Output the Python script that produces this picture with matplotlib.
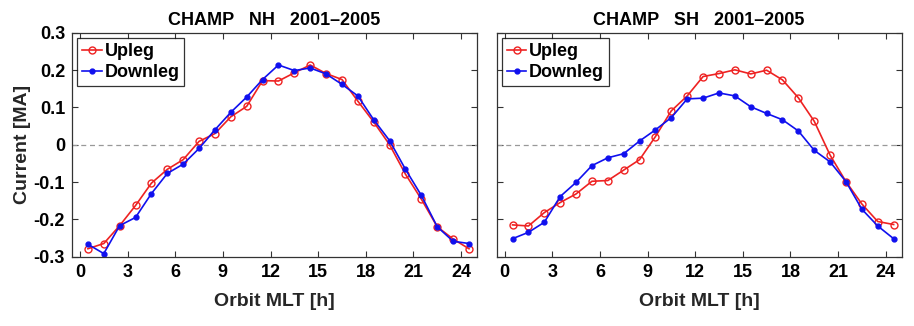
import numpy as np
import matplotlib
matplotlib.use("Agg")
import matplotlib.pyplot as plt

plt.rcParams['font.family'] = ['Liberation Sans', 'DejaVu Sans']
plt.rcParams['font.weight'] = 'bold'
plt.rcParams['axes.unicode_minus'] = False

# orbit MLT bins (hours)
mlt = np.arange(0.5, 25.0, 1.0)

# CHAMP NH, 2001-2005 (MA)
nh_up = [-0.279, -0.265, -0.217, -0.163, -0.103, -0.066, -0.040, 0.009, 0.030,
         0.075, 0.103, 0.172, 0.171, 0.193, 0.214, 0.191, 0.175, 0.117, 0.061,
         0.000, -0.079, -0.146, -0.220, -0.253, -0.279]
nh_down = [-0.267, -0.292, -0.217, -0.195, -0.131, -0.077, -0.052, -0.010, 0.040,
           0.087, 0.128, 0.175, 0.214, 0.199, 0.206, 0.190, 0.162, 0.131, 0.067,
           0.011, -0.066, -0.136, -0.220, -0.259, -0.265]

# CHAMP SH, 2001-2005 (MA)
sh_up = [-0.215, -0.218, -0.182, -0.155, -0.132, -0.098, -0.096, -0.068, -0.040,
         0.022, 0.091, 0.131, 0.183, 0.191, 0.201, 0.190, 0.200, 0.174, 0.126,
         0.063, -0.028, -0.099, -0.159, -0.206, -0.214]
sh_down = [-0.252, -0.235, -0.208, -0.139, -0.101, -0.056, -0.035, -0.024, 0.010,
           0.040, 0.073, 0.123, 0.125, 0.139, 0.131, 0.102, 0.084, 0.067, 0.037,
           -0.015, -0.046, -0.099, -0.173, -0.218, -0.252]

xticks = [0, 3, 6, 9, 12, 15, 18, 21, 24]
yticks = [-0.3, -0.2, -0.1, 0, 0.1, 0.2, 0.3]
ytick_labels = ['-0.3', '-0.2', '-0.1', '0', '0.1', '0.2', '0.3']

fig = plt.figure(figsize=(9.14, 3.26), dpi=100)
ax1 = fig.add_axes([0.0788, 0.213, 0.443, 0.686])
ax2 = fig.add_axes([0.5434, 0.213, 0.443, 0.686])

panels = [(ax1, nh_up, nh_down, 'CHAMP   NH   2001–2005'),
          (ax2, sh_up, sh_down, 'CHAMP   SH   2001–2005')]

for ax, up, down, title in panels:
    ax.axhline(0, color='#999999', linestyle='--', linewidth=0.9, dashes=(4, 3))
    ax.plot(mlt, up, color='#ee2222', marker='o', markersize=5,
            markerfacecolor='none', markeredgewidth=1.0, linewidth=1.2, label='Upleg')
    ax.plot(mlt, down, color='#1010ee', marker='o', markersize=3.5,
            linewidth=1.2, label='Downleg')
    ax.set_xlim(-0.5, 25)
    ax.set_ylim(-0.3, 0.3)
    ax.set_xticks(xticks)
    ax.set_xticklabels([str(t) for t in xticks])
    ax.set_yticks(yticks)
    ax.tick_params(direction='in', top=True, right=True, length=4,
                   width=0.8, color='#333333', labelsize=13, pad=5)
    for sp in ax.spines.values():
        sp.set_color('#333333')
        sp.set_linewidth(0.9)
    ax.set_title(title, fontsize=13, fontweight='bold', pad=6)
    ax.set_xlabel('Orbit MLT [h]', fontsize=14, fontweight='bold', labelpad=9,
                  color='#262626')
    leg = ax.legend(loc='upper left', fontsize=13, frameon=True, fancybox=False,
                    handlelength=1.1, handletextpad=0.15, borderpad=0.25,
                    labelspacing=0.25, borderaxespad=0.3)
    leg.get_frame().set_edgecolor('black')
    leg.get_frame().set_linewidth(0.9)
    for t in leg.get_texts():
        t.set_fontweight('bold')

ax1.set_yticklabels(ytick_labels)
ax1.set_ylabel('Current [MA]', fontsize=14, fontweight='bold', labelpad=2,
               color='#262626')
ax2.set_yticklabels([])

fig.savefig('out.png', dpi=100, facecolor='white')
